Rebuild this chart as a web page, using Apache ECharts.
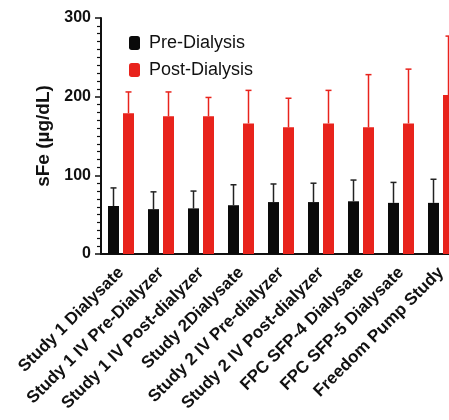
<!DOCTYPE html>
<html>
<head>
<meta charset="utf-8">
<script src="https://cdn.jsdelivr.net/npm/echarts@6/dist/echarts.min.js"></script>
<style>
  html, body { margin: 0; padding: 0; background: #ffffff; overflow: hidden; }
  #wrap { width: 449px; height: 420px; overflow: hidden; }
  #chart { width: 461px; height: 420px; }
</style>
</head>
<body>
<div id="wrap"><div id="chart"></div></div>
<script>
const categories = [
  "Study 1 Dialysate",
  "Study 1 IV Pre-Dialyzer",
  "Study 1 IV Post-dialyzer",
  "Study 2Dialysate",
  "Study 2 IV Pre-dialyzer",
  "Study 2 IV Post-dialyzer",
  "FPC SFP-4 Dialysate",
  "FPC SFP-5 Dialysate",
  "Freedom Pump Study"
];
const preDialysis = [61, 57, 58, 62, 66, 66, 67, 65, 65];
const preDialysisErr = [23, 22, 22, 26, 23, 24, 27, 26, 30];
const postDialysis = [179, 175, 175, 166, 161, 166, 161, 166, 202];
const postDialysisErr = [27, 31, 24, 42, 37, 42, 67, 69, 75];
const yTicks = [0, 100, 200, 300];

const BAR_W = 11;
const BAR_GAP_PX = 4;
const PRE_COLOR = '#0a0a0a';
const POST_COLOR = '#e8231c';
const FONT = '"Liberation Sans", Arial, sans-serif';

function errorSeries(name, values, errs, color, side) {
  return {
    type: 'custom',
    name: name + ' err',
    z: 1,
    silent: true,
    data: values.map((v, i) => [i, v, errs[i]]),
    renderItem: function (params, api) {
      const i = api.value(0);
      const v = api.value(1);
      const e = api.value(2);
      const off = side * (BAR_W + BAR_GAP_PX) / 2;
      const p0 = api.coord([i, v]);
      const p1 = api.coord([i, v + e]);
      const x = p0[0] + off;
      return {
        type: 'group',
        children: [
          { type: 'line', shape: { x1: x, y1: p0[1], x2: x, y2: p1[1] },
            style: { stroke: color, lineWidth: 1.5 } },
          { type: 'line', shape: { x1: x - 3, y1: p1[1], x2: x + 3, y2: p1[1] },
            style: { stroke: color, lineWidth: 1.5 } }
        ]
      };
    }
  };
}

const chart = echarts.init(document.getElementById('chart'), null, { renderer: 'canvas' });
chart.setOption({
  backgroundColor: '#ffffff',
  animation: false,
  textStyle: { fontFamily: FONT },
  legend: {
    orient: 'vertical',
    left: 124,
    top: 29,
    itemWidth: 11,
    itemHeight: 14,
    itemGap: 9,
    data: ['Pre-Dialysis', 'Post-Dialysis'],
    textStyle: { fontSize: 18, color: '#111', fontFamily: FONT, padding: [0, 0, 0, 4] }
  },
  grid: { left: 101, top: 18, right: 0, bottom: 166, containLabel: false },
  xAxis: {
    type: 'category',
    data: categories,
    axisLine: { lineStyle: { color: '#111', width: 2 } },
    axisTick: { alignWithLabel: true, length: 5, lineStyle: { color: '#111', width: 1.5 } },
    axisLabel: {
      rotate: 45,
      interval: 0,
      margin: 16,
      fontSize: 17,
      fontWeight: 'bold',
      color: '#111',
      fontFamily: FONT
    }
  },
  yAxis: {
    type: 'value',
    min: yTicks[0],
    max: yTicks[yTicks.length - 1],
    interval: 100,
    name: 'sFe (µg/dL)',
    nameLocation: 'middle',
    nameGap: 44,
    nameTextStyle: { fontSize: 19, fontWeight: 'bold', color: '#111', fontFamily: FONT },
    axisLine: { show: true, lineStyle: { color: '#111', width: 2 } },
    axisTick: { show: true, length: 6, lineStyle: { color: '#111', width: 1.5 } },
    minorTick: { show: true, splitNumber: 10, length: 4, lineStyle: { color: '#111', width: 1.2 } },
    splitLine: { show: false },
    axisLabel: { fontSize: 16, fontWeight: 'bold', color: '#111', margin: 10, fontFamily: FONT }
  },
  series: [
    {
      name: 'Pre-Dialysis',
      type: 'bar',
      data: preDialysis,
      barWidth: BAR_W,
      barGap: (BAR_GAP_PX / BAR_W * 100) + '%',
      itemStyle: { color: PRE_COLOR },
      z: 2
    },
    {
      name: 'Post-Dialysis',
      type: 'bar',
      data: postDialysis,
      barWidth: BAR_W,
      barGap: (BAR_GAP_PX / BAR_W * 100) + '%',
      itemStyle: { color: POST_COLOR },
      z: 2
    },
    errorSeries('Pre-Dialysis', preDialysis, preDialysisErr, '#222', -1),
    errorSeries('Post-Dialysis', postDialysis, postDialysisErr, POST_COLOR, 1)
  ]
});
</script>
</body>
</html>
